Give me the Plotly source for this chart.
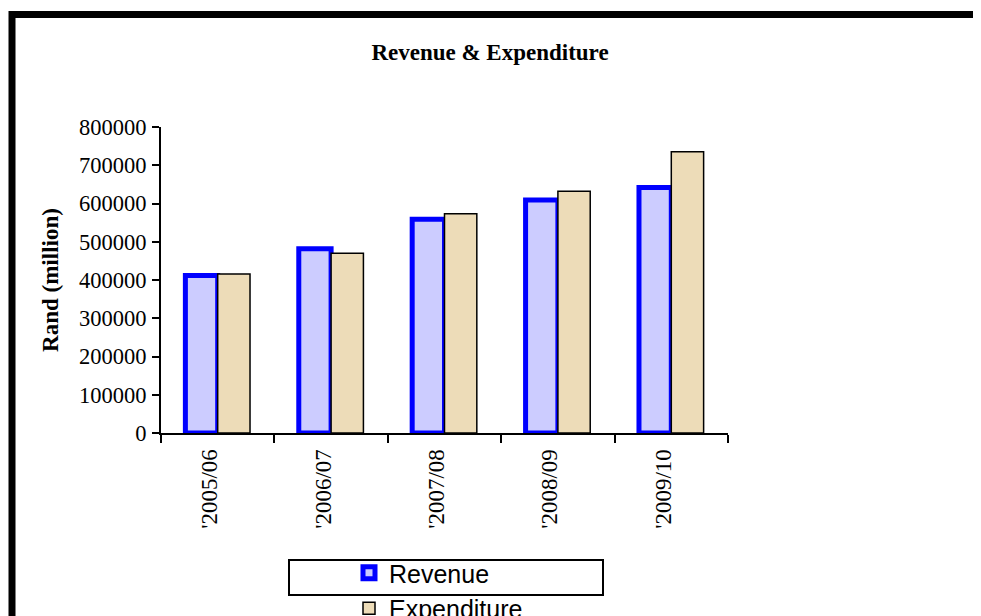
import plotly.graph_objects as go

years = ["'2005/06", "'2006/07", "'2007/08", "'2008/09", "'2009/10"]
revenue = [412000, 482000, 559000, 609000, 642000]
expenditure = [416000, 470000, 573000, 632000, 735000]
y_ticks = [0, 100000, 200000, 300000, 400000, 500000, 600000, 700000, 800000]

serif = "Liberation Serif, Times New Roman, serif"
sans = "Liberation Sans, Arial, sans-serif"

# page is rendered with an 8px body margin, so the figure is 8px smaller
FW, FH = 973, 608
OFF = 8

fig = go.Figure()
fig.add_trace(go.Bar(
    x=years, y=revenue, name="Revenue",
    marker=dict(color="#CCCCFF", line=dict(color="#0000FF", width=5)),
))
fig.add_trace(go.Bar(
    x=years, y=expenditure, name="Expenditure",
    marker=dict(color="#EDDCB8", line=dict(color="#000000", width=1.5)),
))

L, R, T, B = 153, 253, 119, 183
W, H = FW - L - R, FH - T - B

def px(x):
    return (x - OFF - L) / W

def py(y):
    return (FH - B - (y - OFF)) / H

# outer frame (extends beyond right/bottom edges)
fig.add_shape(type="rect", xref="paper", yref="paper",
              x0=px(12), x1=px(1010), y0=py(650), y1=py(14.5),
              line=dict(color="black", width=7), fillcolor="rgba(0,0,0,0)", layer="below")
# legend box
fig.add_shape(type="rect", xref="paper", yref="paper",
              x0=px(289), x1=px(603), y0=py(595), y1=py(560),
              line=dict(color="black", width=2), fillcolor="white", layer="below")

fig.update_layout(
    width=FW, height=FH,
    margin=dict(l=L, r=R, t=T, b=B, autoexpand=False),
    paper_bgcolor="white", plot_bgcolor="white",
    barmode="group", bargap=0.43, bargroupgap=0,
    title=dict(text="Revenue & Expenditure", x=(490 - OFF) / FW, xanchor="center",
               y=1 - (52 - OFF) / FH, yanchor="middle", xref="container", yref="container",
               font=dict(family=serif, size=23, color="black", weight="bold")),
    showlegend=True,
    legend=dict(x=px(349), xanchor="left", y=py(550), yanchor="top",
                bgcolor="rgba(0,0,0,0)", borderwidth=0,
                font=dict(family=sans, size=25, color="black"),
                tracegroupgap=0, traceorder="normal"),
    xaxis=dict(
        type="category", showline=True, linecolor="black", linewidth=2,
        ticks="outside", ticklen=8, tickwidth=2, tickcolor="black",
        tickson="boundaries", tickangle=-90, showgrid=False, zeroline=False,
        ticklabelstandoff=5, ticklabelshift=-8,
        tickfont=dict(family=serif, size=23, color="black"),
    ),
    yaxis=dict(
        range=[0, 800000], tickvals=y_ticks, ticktext=[str(v) for v in y_ticks],
        showline=True, linecolor="black", linewidth=2,
        ticks="outside", ticklen=7, tickwidth=2, tickcolor="black",
        showgrid=False, zeroline=False, ticklabelstandoff=1,
        tickfont=dict(family=serif, size=22.5, color="black"),
        title=dict(text="Rand (million)", standoff=14,
                   font=dict(family=serif, size=23, color="black", weight="bold")),
    ),
)

fig.write_html("out.html")
